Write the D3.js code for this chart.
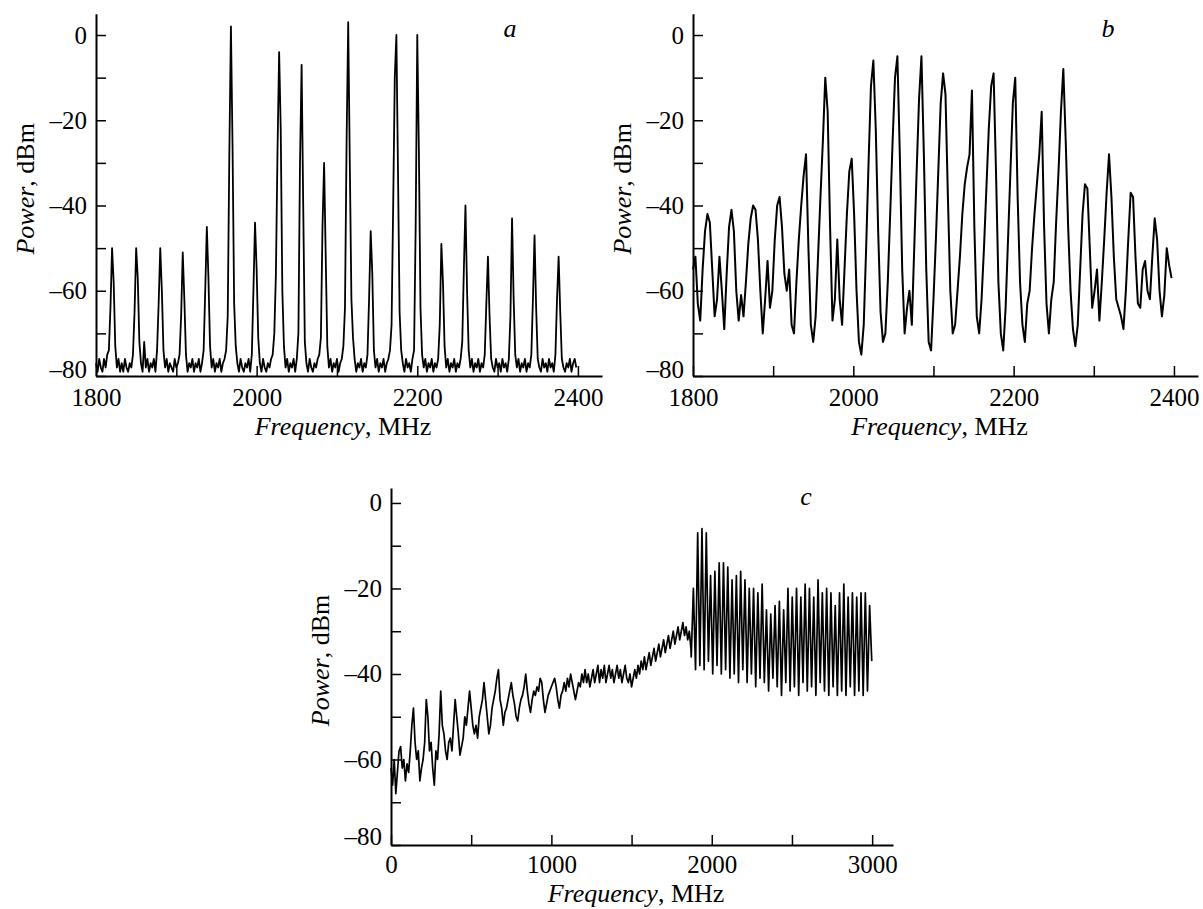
<!DOCTYPE html>
<html>
<head>
<meta charset="utf-8">
<script src="https://cdn.jsdelivr.net/npm/d3@7"></script>
<style>
  body { margin: 0; background: #fff; }
  svg text { font-family: 'Liberation Serif', 'Times New Roman', serif; fill: #000; }
</style>
</head>
<body>
<svg id="chart" width="1203" height="909"></svg>
<script>
// tick labels
let xTicksAB = [1800, 2000, 2200, 2400]
let xTicksC = [0, 1000, 2000, 3000]
let yTicks = [0, -20, -40, -60, -80]

// panel a : power (dBm), sampled every 2 MHz from 1800 MHz
let aStart = 1800, aStep = 2
let aPower = [
  -77, -79, -76, -78, -79, -76, -78, -75, -74, -64,
  -50, -58, -73, -78, -76, -79, -77, -79, -76, -78,
  -79, -77, -78, -75, -65, -50, -57, -72, -77, -79,
  -72, -78, -76, -79, -77, -78, -76, -79, -74, -63,
  -50, -60, -74, -78, -76, -79, -77, -78, -79, -76,
  -78, -77, -75, -66, -51, -62, -75, -79, -77, -78,
  -76, -79, -77, -78, -76, -79, -77, -74, -60, -45,
  -57, -73, -78, -76, -79, -77, -78, -76, -79, -77,
  -76, -74, -66, -28, 2, -26, -63, -73, -77, -79,
  -76, -78, -79, -77, -78, -76, -79, -75, -60, -44,
  -55, -71, -77, -79, -76, -78, -79, -77, -78, -76,
  -75, -70, -56, -27, -4, -22, -60, -73, -78, -76,
  -79, -77, -78, -76, -79, -76, -70, -30, -7, -40,
  -72, -77, -79, -76, -78, -79, -77, -78, -76, -75,
  -71, -45, -30, -52, -73, -78, -76, -79, -77, -78,
  -76, -79, -77, -76, -73, -64, -25, 3, -30, -62,
  -71, -76, -79, -77, -78, -76, -79, -77, -78, -75,
  -62, -46, -56, -74, -78, -76, -79, -77, -78, -76,
  -79, -77, -76, -74, -68, -40, -10, 0, -32, -65,
  -74, -77, -79, -76, -78, -77, -79, -76, -74, -45,
  0, -27, -64, -75, -78, -76, -79, -77, -78, -76,
  -79, -77, -78, -76, -68, -49, -58, -73, -78, -76,
  -79, -77, -78, -76, -79, -77, -78, -76, -72, -55,
  -40, -60, -74, -78, -76, -79, -77, -78, -76, -79,
  -77, -78, -75, -63, -52, -66, -76, -78, -79, -76,
  -78, -77, -79, -76, -78, -77, -79, -76, -66, -43,
  -62, -75, -78, -76, -79, -77, -78, -76, -79, -77,
  -78, -75, -62, -47, -64, -76, -78, -79, -76, -78,
  -77, -79, -76, -78, -77, -79, -75, -62, -52, -65,
  -76, -78, -79, -77, -78, -76, -79, -77, -76, -78
]

// panel b : power (dBm), sampled every 3 MHz from 1800 MHz
let bStart = 1800, bStep = 3
let bPower = [
  -55, -52, -63, -67, -55, -46, -42, -44, -55, -66,
  -62, -52, -60, -69, -56, -45, -41, -46, -60, -67,
  -61, -66, -58, -49, -43, -40, -41, -48, -60, -70,
  -62, -53, -64, -60, -48, -40, -38, -45, -56, -60,
  -55, -68, -70, -58, -48, -40, -33, -28, -50, -68,
  -72, -66, -52, -38, -25, -10, -18, -45, -67, -62,
  -48, -62, -68, -55, -42, -32, -29, -42, -60, -72,
  -75, -68, -50, -30, -12, -6, -22, -46, -65, -72,
  -70, -58, -42, -25, -10, -5, -28, -55, -70, -64,
  -60, -68, -50, -32, -15, -5, -28, -55, -72, -74,
  -62, -48, -32, -16, -9, -14, -38, -60, -70, -68,
  -60, -52, -42, -35, -31, -28, -13, -45, -66, -70,
  -62, -50, -36, -22, -12, -9, -32, -58, -70, -74,
  -64, -48, -32, -16, -10, -38, -58, -68, -72, -63,
  -60, -50, -42, -35, -28, -18, -45, -63, -70, -62,
  -58, -44, -32, -18, -8, -25, -45, -60, -69, -73,
  -68, -55, -42, -35, -36, -50, -64, -60, -55, -67,
  -58, -48, -37, -28, -38, -52, -62, -64, -66, -69,
  -60, -48, -37, -38, -52, -63, -64, -55, -53, -60,
  -62, -52, -43, -48, -60, -66, -61, -50, -54, -57
]

// panel c : power (dBm), broad part every 10 MHz from 0 MHz
let cLowStart = 0, cLowStep = 10
let cLowPower = [
  -62, -66, -60, -68, -63, -58, -57, -62, -60, -65,
  -61, -63, -58, -52, -48, -56, -60, -58, -65, -62,
  -60, -56, -46, -50, -58, -56, -62, -66, -58, -60,
  -54, -44, -52, -54, -58, -60, -56, -55, -58, -52,
  -46, -50, -54, -59, -57, -55, -50, -52, -48, -44,
  -48, -52, -54, -52, -55, -50, -48, -46, -42, -46,
  -50, -54, -52, -48, -46, -44, -41, -39, -46, -48,
  -52, -49, -48, -46, -44, -42, -45, -47, -50, -51,
  -48, -46, -45, -43, -40, -44, -47, -49, -46, -44,
  -45, -43, -44, -41, -42, -46, -49, -47, -45, -44,
  -43, -42, -41, -43, -46, -48, -45, -44, -42, -44,
  -41, -43, -40, -42, -44, -46, -44, -42, -43, -40,
  -42, -39, -42, -40, -43, -41, -39, -42, -40, -38,
  -42, -39, -41, -38, -42, -40, -38, -41, -39, -42,
  -40, -38, -41, -39, -42, -40, -38, -41, -42, -40,
  -43, -41, -39, -41, -38, -40, -37, -39, -36, -39,
  -37, -35, -38, -36, -34, -37, -35, -33, -36, -34,
  -32, -35, -33, -31, -34, -32, -30, -33, -31, -29,
  -32, -30, -28, -31, -29, -32, -30, -34
]

// panel c : comb part, every 13.4 MHz from 1872 MHz (dips and spikes)
let cHighStart = 1872, cHighStep = 13.4
let cHighPower = [
  -36, -20, -39, -7, -38, -6, -39, -7, -37, -17,
  -40, -16, -38, -14, -40, -14, -39, -15, -41, -18,
  -40, -17, -42, -16, -39, -18, -42, -20, -40, -20,
  -43, -21, -41, -19, -42, -25, -44, -26, -41, -24,
  -43, -23, -45, -25, -42, -20, -44, -22, -43, -20,
  -45, -22, -42, -19, -44, -20, -43, -22, -45, -18,
  -42, -21, -44, -20, -45, -21, -43, -24, -45, -21,
  -44, -19, -45, -22, -43, -21, -45, -22, -44, -21,
  -45, -21, -44, -24, -37
]

function toPoints(start, step, values) {
    return values.map((p, i) => [start + i * step, p])
}

let svg = d3.select('#chart')
svg.append('rect').attr('width', 1203).attr('height', 909).style('fill', '#fff')

function drawPanel(cfg) {
    let g = svg.append('g')

    let x = d3.scaleLinear().domain(cfg.xDomain).range([cfg.left, cfg.right])
    let y = d3.scaleLinear().domain(cfg.yDomain).range([cfg.bottom, cfg.top])

    let fmtY = d => yTicks.indexOf(d) >= 0 ? (d < 0 ? '\u2013' + (-d) : String(d)) : ''
    let fmtX = d => cfg.xLabels.indexOf(d) >= 0 ? String(d) : ''

    let xAxis = d3.axisBottom(x)
        .tickValues(d3.range(cfg.xDomain[0], cfg.xLabels[cfg.xLabels.length - 1] + 1, cfg.xMinor))
        .tickFormat(fmtX)
        .tickSizeInner(-10)
        .tickSizeOuter(0)
        .tickPadding(cfg.tickPad)

    let yAxis = d3.axisLeft(y)
        .tickValues(d3.range(-80, 1, 10))
        .tickFormat(fmtY)
        .tickSizeInner(-10)
        .tickSizeOuter(0)
        .tickPadding(9)

    let gx = g.append('g').attr('transform', `translate(0,${cfg.bottom})`).call(xAxis)
    let gy = g.append('g').attr('transform', `translate(${cfg.left},0)`).call(yAxis)

    ;[gx, gy].forEach(a => {
        a.select('.domain').style('stroke', '#000').style('stroke-width', 2)
        a.selectAll('.tick line').style('stroke', '#000').style('stroke-width', 1.5)
        a.selectAll('.tick text').style('font-size', '25px').style('font-family', "'Liberation Serif', serif")
    })

    // the lowest y label sits a little higher, clear of the x labels
    gy.selectAll('.tick text').filter(d => d === -80).attr('y', cfg.lowShift)

    // trace
    let line = d3.line().x(d => x(d[0])).y(d => y(d[1]))
    cfg.series.forEach(s => {
        g.append('path')
            .datum(s)
            .attr('d', line)
            .style('fill', 'none')
            .style('stroke', '#000')
            .style('stroke-width', cfg.lw)
            .style('stroke-linejoin', 'round')
    })

    // axis titles
    let xt = g.append('text')
        .attr('x', (cfg.left + cfg.right) / 2 - 6)
        .attr('y', cfg.bottom + cfg.titleGap)
        .attr('text-anchor', 'middle')
        .style('font-size', '26px')
    xt.append('tspan').style('font-style', 'italic').text('Frequency')
    xt.append('tspan').text(', MHz')

    let yt = g.append('text')
        .attr('transform', `translate(${cfg.left - 62},${(cfg.top + cfg.bottom) / 2 - 6}) rotate(-90)`)
        .attr('text-anchor', 'middle')
        .style('font-size', '26px')
    yt.append('tspan').style('font-style', 'italic').text('Power')
    yt.append('tspan').text(', dBm')

    g.append('text')
        .attr('x', cfg.tagX)
        .attr('y', cfg.tagY)
        .attr('text-anchor', 'middle')
        .style('font-size', '26px')
        .style('font-style', 'italic')
        .text(cfg.tag)
}

drawPanel({
    left: 96, right: 602, top: 13.7, bottom: 376, titleGap: 59, tickPad: 12, lowShift: -7,
    xDomain: [1800, 2430], yDomain: [-80, 5], xMinor: 100, xLabels: xTicksAB,
    series: [toPoints(aStart, aStep, aPower)], lw: 1.8,
    tag: 'a', tagX: 510, tagY: 37
})

drawPanel({
    left: 693, right: 1198, top: 13.7, bottom: 376, titleGap: 59, tickPad: 12, lowShift: -7,
    xDomain: [1800, 2430], yDomain: [-80, 5], xMinor: 100, xLabels: xTicksAB,
    series: [toPoints(bStart, bStep, bPower)], lw: 2,
    tag: 'b', tagX: 1108, tagY: 37
})

drawPanel({
    left: 391, right: 893, top: 488, bottom: 845, titleGap: 57, tickPad: 10, lowShift: -9,
    xDomain: [0, 3130], yDomain: [-80, 3.5], xMinor: 500, xLabels: xTicksC,
    series: [toPoints(cLowStart, cLowStep, cLowPower).concat(toPoints(cHighStart, cHighStep, cHighPower))], lw: 1.7,
    tag: 'c', tagX: 806, tagY: 505
})
</script>
</body>
</html>
